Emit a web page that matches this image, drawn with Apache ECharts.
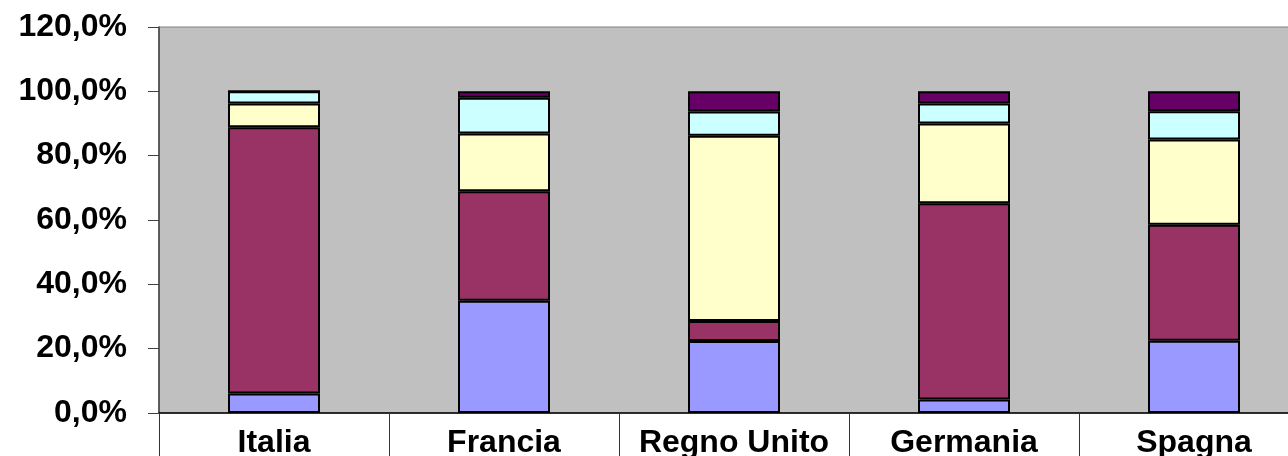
<!DOCTYPE html>
<html>
<head>
<meta charset="utf-8">
<script src="https://cdn.jsdelivr.net/npm/echarts@6/dist/echarts.min.js"></script>
<style>html,body{margin:0;padding:0;background:#fff}#c{width:1288px;height:456px}</style>
</head>
<body>
<div id="c"></div>
<script>
const categories = ['Italia', 'Francia', 'Regno Unito', 'Germania', 'Spagna'];
const serie1 = [6.1, 34.9, 22.4, 4.2, 22.5];
const serie2 = [82.7, 34.0, 6.2, 61.0, 36.0];
const serie3 = [7.4, 18.0, 57.6, 24.8, 26.5];
const serie4 = [3.8, 11.1, 7.5, 6.2, 8.8];
const serie5 = [0.0, 2.0, 6.3, 3.8, 6.2];
const seriesNames = ['Serie 1', 'Serie 2', 'Serie 3', 'Serie 4', 'Serie 5'];
const seriesColors = ['#9999FF', '#993366', '#FFFFCC', '#CCFFFF', '#660066'];
const yTicks = [0, 20, 40, 60, 80, 100, 120];

const chart = echarts.init(document.getElementById('c'), null, {renderer: 'canvas'});
const allData = [serie1, serie2, serie3, serie4, serie5];
const font = '"Liberation Sans", Arial, sans-serif';
chart.setOption({
  animation: false,
  grid: {
    left: 159, top: 27, width: 1150, height: 386,
    outerBoundsMode: 'none', containLabel: false,
    show: true, backgroundColor: '#C0C0C0', borderColor: '#808080', borderWidth: 1
  },
  xAxis: {
    type: 'category',
    data: categories,
    axisLine: {lineStyle: {color: '#000', width: 1.5}},
    axisTick: {show: true, interval: 0, length: 46, lineStyle: {color: '#333', width: 1}},
    axisLabel: {interval: 0, margin: 14, fontFamily: font, fontWeight: 'bold', fontSize: 32, color: '#000'},
    splitLine: {show: false}
  },
  yAxis: {
    type: 'value',
    min: yTicks[0], max: yTicks[yTicks.length - 1], interval: 20,
    axisLine: {show: true, lineStyle: {color: '#404040', width: 1.5}},
    axisTick: {show: true, length: 11, lineStyle: {color: '#404040', width: 1}},
    splitLine: {show: false},
    axisLabel: {
      margin: 32, fontFamily: font, fontWeight: 'bold', fontSize: 32, color: '#000',
      formatter: v => v.toFixed(1).replace('.', ',') + '%'
    }
  },
  series: allData.map((d, i) => ({
    name: seriesNames[i],
    type: 'bar',
    stack: 'tot',
    barWidth: '40%',
    data: d,
    itemStyle: {color: seriesColors[i], borderColor: '#000', borderWidth: 2}
  }))
});
</script>
</body>
</html>
